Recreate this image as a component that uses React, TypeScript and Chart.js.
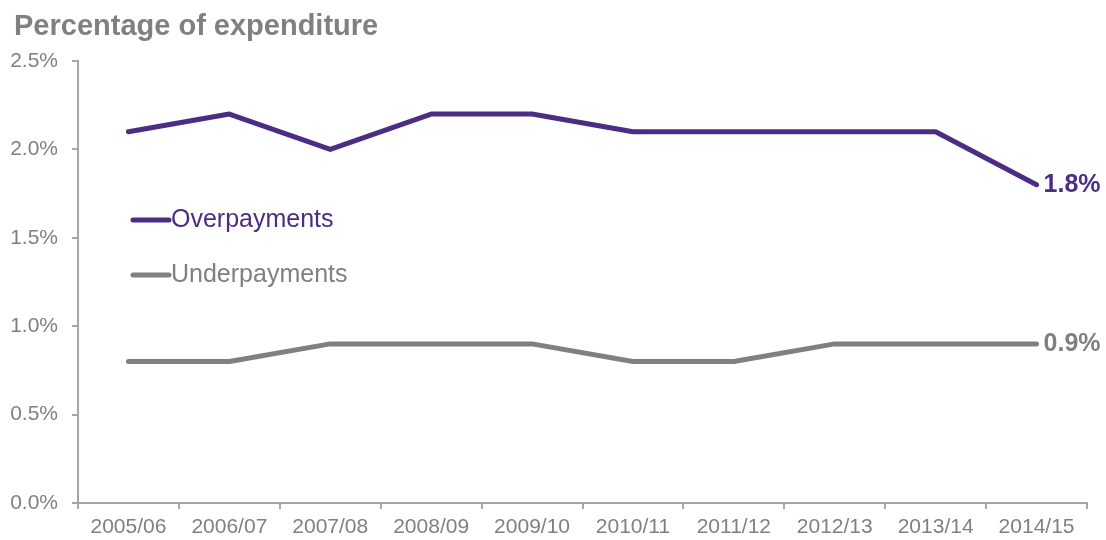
import React, { useEffect, useRef } from "react";
import { Chart, registerables } from "chart.js";

Chart.register(...registerables);

const categories = ["2005/06", "2006/07", "2007/08", "2008/09", "2009/10", "2010/11", "2011/12", "2012/13", "2013/14", "2014/15"];
const overpayments = [2.1, 2.2, 2.0, 2.2, 2.2, 2.1, 2.1, 2.1, 2.1, 1.8];
const underpayments = [0.8, 0.8, 0.9, 0.9, 0.9, 0.8, 0.8, 0.9, 0.9, 0.9];
const seriesNames = ["Overpayments", "Underpayments"];
const endLabels = ["1.8%", "0.9%"];
const titleText = "Percentage of expenditure";

const PURPLE = "#4D2C84";
const GRAY = "#808080";
const AXIS = "#A6A6A6";
const FONT = "'Liberation Sans', Arial, sans-serif";

const overlayPlugin = {
  id: "overlay",
  afterDraw(chart: any) {
    const ctx = chart.ctx;
    ctx.save();
    // title
    ctx.fillStyle = GRAY;
    ctx.font = `bold 29px ${FONT}`;
    ctx.textAlign = "left";
    ctx.textBaseline = "alphabetic";
    ctx.fillText(titleText, 14, 35);
    // legend
    const legendY = [220, 275];
    const colors = [PURPLE, GRAY];
    for (let i = 0; i < 2; i++) {
      ctx.strokeStyle = colors[i];
      ctx.lineWidth = 5;
      ctx.lineCap = "round";
      ctx.beginPath();
      ctx.moveTo(133, legendY[i]);
      ctx.lineTo(169, legendY[i]);
      ctx.stroke();
      ctx.fillStyle = colors[i];
      ctx.font = `25px ${FONT}`;
      ctx.textBaseline = "middle";
      ctx.fillText(seriesNames[i], 171, legendY[i]);
    }
    // end labels
    for (let i = 0; i < 2; i++) {
      const meta = chart.getDatasetMeta(i);
      const pt = meta.data[meta.data.length - 1];
      ctx.fillStyle = colors[i];
      ctx.font = `bold 25px ${FONT}`;
      ctx.textBaseline = "middle";
      ctx.fillText(endLabels[i], pt.x + 7, pt.y);
    }
    ctx.restore();
  },
};

export default function App() {
  const ref = useRef<HTMLCanvasElement>(null);
  useEffect(() => {
    const chart = new Chart(ref.current as HTMLCanvasElement, {
      type: "line",
      data: {
        labels: categories,
        datasets: [
          { label: seriesNames[0], data: overpayments, borderColor: PURPLE, backgroundColor: PURPLE, borderWidth: 5, pointRadius: 0, tension: 0, borderCapStyle: "round", borderJoinStyle: "round" },
          { label: seriesNames[1], data: underpayments, borderColor: GRAY, backgroundColor: GRAY, borderWidth: 5, pointRadius: 0, tension: 0, borderCapStyle: "round", borderJoinStyle: "round" },
        ],
      },
      options: {
        animation: false,
        responsive: false,
        maintainAspectRatio: false,
        layout: { padding: { top: 61, right: 19, bottom: 0, left: 0 } },
        plugins: { legend: { display: false }, title: { display: false }, tooltip: { enabled: false } },
        scales: {
          x: {
            offset: true,
            grid: { display: true, offset: true, drawOnChartArea: false, drawTicks: true, tickLength: 6, color: AXIS, lineWidth: 2 },
            border: { display: true, color: AXIS, width: 2 },
            ticks: { color: GRAY, font: { family: FONT, size: 21 }, padding: 6, maxRotation: 0, autoSkip: false },
            afterFit: (s: any) => { s.height = 37; },
          },
          y: {
            min: 0,
            max: 2.5,
            grid: { display: true, drawOnChartArea: false, drawTicks: true, tickLength: 6, color: AXIS, lineWidth: 2 },
            border: { display: true, color: AXIS, width: 2 },
            ticks: { stepSize: 0.5, color: GRAY, font: { family: FONT, size: 21 }, padding: 14, callback: (v: any) => Number(v).toFixed(1) + "%" },
            afterFit: (s: any) => { s.width = 78; },
          },
        },
      } as any,
      plugins: [overlayPlugin],
    });
    return () => chart.destroy();
  }, []);
  return (
    <div style={{ position: "fixed", left: 0, top: 0, width: 1106, height: 540, background: "#fff" }}>
      <canvas ref={ref} width={1106} height={540} style={{ width: 1106, height: 540, display: "block" }} />
    </div>
  );
}
